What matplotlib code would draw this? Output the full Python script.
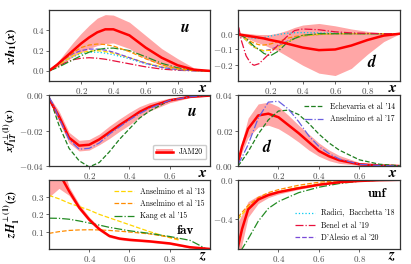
import matplotlib
matplotlib.use("Agg")
import matplotlib.pyplot as plt
from matplotlib.patches import Patch
from matplotlib.lines import Line2D

plt.rcParams["font.family"] = "serif"
plt.rcParams["font.serif"] = ["cmr10"]
plt.rcParams["mathtext.fontset"] = "cm"
plt.rcParams["axes.formatter.use_mathtext"] = True
plt.rcParams["mathtext.it"] = "STIXGeneral:italic:bold"
plt.rcParams["mathtext.rm"] = "STIXGeneral:bold"
plt.rcParams["mathtext.bf"] = "STIXGeneral:bold"

RED = "#ff0000"
C13 = "#ffd500"
C15 = "#ff8c00"
CKANG = "#228b22"
CRAD = "#00c8f0"
CBEN = "#e8103c"
CDAL = "#7a4ad8"
CECH = "#1f7f1f"
C17 = "#6a5fe0"

# ---- top left: x h1 u ----
x_hu = [0, 0.05, 0.1, 0.15, 0.2, 0.25, 0.3, 0.35, 0.4, 0.5, 0.6, 0.7, 0.8, 0.9, 1.0]
hu_jam = [0, 0.06, 0.13, 0.2, 0.27, 0.33, 0.38, 0.41, 0.41, 0.35, 0.23, 0.13, 0.055, 0.012, 0]
hu_up = [0, 0.08, 0.18, 0.28, 0.37, 0.45, 0.52, 0.555, 0.55, 0.48, 0.35, 0.22, 0.12, 0.03, 0]
hu_lo = [0, 0.04, 0.09, 0.14, 0.18, 0.22, 0.25, 0.27, 0.275, 0.22, 0.12, 0.055, 0.02, 0.004, 0]
hu_a15 = [0, 0.06, 0.12, 0.18, 0.23, 0.255, 0.265, 0.26, 0.245, 0.19, 0.12, 0.06, 0.02, 0.005, 0]
hu_kang = [0, 0.03, 0.07, 0.11, 0.15, 0.185, 0.21, 0.222, 0.225, 0.2, 0.14, 0.075, 0.03, 0.006, 0]
hu_a13 = [0, 0.05, 0.1, 0.15, 0.18, 0.195, 0.2, 0.19, 0.175, 0.13, 0.08, 0.04, 0.015, 0.003, 0]
hu_rad = [0, 0.05, 0.1, 0.14, 0.17, 0.185, 0.185, 0.175, 0.16, 0.12, 0.07, 0.035, 0.012, 0.002, 0]
hu_dal = [0, 0.06, 0.12, 0.17, 0.2, 0.215, 0.215, 0.205, 0.185, 0.13, 0.075, 0.035, 0.012, 0.002, 0]
hu_ben = [0, 0.04, 0.08, 0.11, 0.125, 0.13, 0.125, 0.115, 0.1, 0.07, 0.04, 0.018, 0.006, 0.001, 0]

# ---- top right: x h1 d ----
x_hd = [0.005, 0.02, 0.05, 0.08, 0.1, 0.13, 0.16, 0.2, 0.25, 0.3, 0.35, 0.4, 0.5, 0.6, 0.7, 0.8, 0.9, 1.0]
hd_jam = [-0.005, -0.007, -0.012, -0.017, -0.02, -0.025, -0.03, -0.04, -0.05, -0.062, -0.075, -0.088, -0.104, -0.1, -0.075, -0.04, -0.012, 0]
hd_up = [0.005, 0.004, 0.002, 0.0, -0.003, -0.005, -0.005, -0.005, 0.005, 0.02, 0.04, 0.055, 0.065, 0.05, 0.03, 0.015, 0.005, 0]
hd_lo = [-0.015, -0.02, -0.03, -0.04, -0.05, -0.06, -0.07, -0.09, -0.11, -0.14, -0.17, -0.2, -0.25, -0.265, -0.22, -0.13, -0.05, 0]
hd_ben = [0.04, -0.04, -0.14, -0.19, -0.2, -0.19, -0.16, -0.12, -0.07, -0.02, 0.02, 0.03, 0.025, 0.012, 0.005, 0.002, 0, 0]
hd_kang = [0, -0.01, -0.03, -0.06, -0.08, -0.1, -0.125, -0.14, -0.11, -0.06, -0.03, -0.01, 0, 0, 0, 0, 0, 0]
hd_a13 = [0, -0.01, -0.04, -0.07, -0.085, -0.1, -0.108, -0.105, -0.085, -0.055, -0.03, -0.015, -0.005, 0, 0, 0, 0, 0]
hd_a15 = [0, -0.01, -0.03, -0.05, -0.06, -0.07, -0.072, -0.065, -0.05, -0.03, -0.018, -0.01, -0.004, 0, 0, 0, 0, 0]
hd_dal = [0, -0.015, -0.04, -0.07, -0.085, -0.1, -0.108, -0.1, -0.08, -0.05, -0.028, -0.014, -0.005, 0, 0, 0, 0, 0]
hd_rad = [0, -0.005, -0.015, -0.025, -0.03, -0.03, -0.025, -0.015, -0.005, 0.003, 0.006, 0.007, 0.005, 0.003, 0.001, 0, 0, 0]

# ---- middle: Sivers ----
x_f = [0, 0.02, 0.05, 0.1, 0.15, 0.2, 0.25, 0.3, 0.35, 0.4, 0.45, 0.5, 0.6, 0.7, 0.8]
fu_jam = [-0.002, -0.006, -0.012, -0.024, -0.0285, -0.028, -0.025, -0.021, -0.017, -0.0133, -0.0095, -0.0067, -0.003, -0.001, -0.0003]
fu_up = [-0.001, -0.004, -0.009, -0.021, -0.0255, -0.025, -0.022, -0.0175, -0.0135, -0.0098, -0.0065, -0.0043, -0.0017, -0.0005, 0]
fu_lo = [-0.003, -0.008, -0.015, -0.027, -0.0315, -0.031, -0.028, -0.0245, -0.0205, -0.0168, -0.0125, -0.009, -0.0043, -0.0015, -0.0005]
fu_ech = [-0.001, -0.007, -0.017, -0.03, -0.037, -0.0405, -0.038, -0.032, -0.025, -0.019, -0.013, -0.009, -0.003, -0.0008, 0]
fu_a17 = [-0.001, -0.005, -0.013, -0.025, -0.0305, -0.03, -0.027, -0.022, -0.018, -0.014, -0.0105, -0.0075, -0.003, -0.001, 0]
fd_jam = [0.002, 0.011, 0.021, 0.0285, 0.0295, 0.0275, 0.023, 0.0185, 0.0135, 0.0085, 0.0055, 0.0033, 0.001, 0.0003, 0]
fd_up = [0.003, 0.014, 0.027, 0.035, 0.036, 0.0335, 0.0285, 0.023, 0.018, 0.013, 0.009, 0.006, 0.002, 0.0006, 0]
fd_lo = [0.001, 0.008, 0.016, 0.022, 0.023, 0.021, 0.0175, 0.0135, 0.009, 0.0055, 0.003, 0.0015, 0.0004, 0.0001, 0]
fd_ech = [0.0, 0.003, 0.008, 0.018, 0.026, 0.031, 0.0315, 0.029, 0.024, 0.018, 0.013, 0.009, 0.0035, 0.001, 0.0002]
fd_a17 = [0.001, 0.005, 0.012, 0.027, 0.036, 0.0365, 0.032, 0.025, 0.017, 0.011, 0.007, 0.004, 0.001, 0.0003, 0]

# ---- bottom: Collins ----
z_c = [0.2, 0.25, 0.3, 0.35, 0.4, 0.45, 0.5, 0.55, 0.6, 0.7, 0.8, 0.9, 1.0]
hf_jam = [0.5, 0.44, 0.335, 0.24, 0.17, 0.115, 0.075, 0.06, 0.053, 0.044, 0.032, 0.01, 0.0]
hf_up = [0.7, 0.55, 0.36, 0.26, 0.185, 0.125, 0.083, 0.067, 0.06, 0.05, 0.038, 0.014, 0.0]
hf_lo = [0.3, 0.35, 0.31, 0.225, 0.157, 0.105, 0.067, 0.053, 0.046, 0.038, 0.026, 0.006, 0.0]
z_a = [0.2, 0.25, 0.3, 0.35, 0.4, 0.45, 0.5, 0.55, 0.6, 0.7, 0.8, 0.85]
hf_a13 = [0.31, 0.29, 0.265, 0.245, 0.225, 0.2, 0.18, 0.16, 0.14, 0.1, 0.065, 0.05]
hf_a15 = [0.09, 0.1, 0.107, 0.11, 0.111, 0.11, 0.107, 0.103, 0.098, 0.087, 0.068, 0.055]
z_k = [0.2, 0.25, 0.3, 0.35, 0.4, 0.45, 0.5, 0.55, 0.6, 0.7, 0.8, 0.9, 0.95, 0.98]
hf_kang = [0.178, 0.177, 0.172, 0.162, 0.15, 0.138, 0.125, 0.115, 0.105, 0.09, 0.072, 0.05, 0.02, 0.0]
z_u = [0.2, 0.22, 0.25, 0.3, 0.35, 0.4, 0.5, 0.6, 0.7, 0.8, 0.9, 1.0]
hn_jam = [-0.68, -0.5, -0.3, -0.2, -0.155, -0.125, -0.085, -0.05, -0.025, -0.012, -0.004, 0]
hn_up = [-0.43, -0.35, -0.22, -0.16, -0.13, -0.105, -0.073, -0.042, -0.02, -0.009, -0.003, 0]
hn_lo = [-0.93, -0.65, -0.38, -0.24, -0.18, -0.145, -0.097, -0.058, -0.03, -0.015, -0.005, 0]
hn_a13 = [-0.4, -0.35, -0.28, -0.2, -0.155, -0.12, -0.075, -0.042, -0.02, -0.008, -0.002, 0]
hn_a15 = [-0.38, -0.33, -0.26, -0.18, -0.13, -0.1, -0.055, -0.025, -0.008, 0, 0, 0]
hn_kang = [-0.85, -0.7, -0.6, -0.42, -0.29, -0.22, -0.13, -0.075, -0.038, -0.015, -0.004, 0]

fig = plt.figure(figsize=(4.11, 2.64), dpi=100)
L = [0.119, 0.579]
W = [0.392, 0.394]
B = [0.693, 0.371, 0.057]
H = [0.269, 0.269, 0.262]
axs = [[fig.add_axes([L[c], B[r], W[c], H[r]]) for c in range(2)] for r in range(3)]

band = dict(color=RED, alpha=0.35, lw=0)
jam = dict(color=RED, lw=1.8)
thin = 0.9


def style(ax, xlim, ylim, xticks, yticks, xlab):
    ax.set_xlim(*xlim)
    ax.set_ylim(*ylim)
    ax.set_xticks(xticks)
    ax.set_yticks(yticks)
    ax.tick_params(labelsize=6.5, length=2.5, width=0.6, colors="0.3", pad=1.0)
    for s in ax.spines.values():
        s.set_linewidth(0.9)
        s.set_color("0.2")
    ax.text(0.955, -0.1, "$" + xlab + "$", transform=ax.transAxes, ha="center",
            va="center", fontsize=11, math_fontfamily="custom")


def plabel(ax, x, y, s, math=True, size=11.5):
    if math:
        ax.text(x, y, "$" + s + "$", transform=ax.transAxes, ha="center", va="center",
                fontsize=size, math_fontfamily="custom")
    else:
        ax.text(x, y, s, transform=ax.transAxes, ha="center", va="center",
                fontsize=size, family="cmb10")


# top left
ax = axs[0][0]
ax.fill_between(x_hu, hu_lo, hu_up, **band)
ax.plot(x_hu, hu_ben, color=CBEN, lw=thin, ls="-.")
ax.plot(x_hu, hu_rad, color=CRAD, lw=thin, ls=":")
ax.plot(x_hu, hu_a13, color=C13, lw=thin, ls="--")
ax.plot(x_hu, hu_dal, color=CDAL, lw=thin, ls="--")
ax.plot(x_hu, hu_kang, color=CKANG, lw=thin, ls="-.")
ax.plot(x_hu, hu_a15, color=C15, lw=thin, ls="--")
ax.plot(x_hu, hu_jam, **jam)
style(ax, (0, 1), (-0.1, 0.6), [0.2, 0.4, 0.6, 0.8], [0.0, 0.2, 0.4], "x")
ax.set_yticklabels(["0.0", "0.2", "0.4"])
ax.set_ylabel("$xh_1(x)$", fontsize=9.5, math_fontfamily="custom")
plabel(ax, 0.845, 0.75, "u")

# top right
ax = axs[0][1]
ax.fill_between(x_hd, hd_lo, hd_up, **band)
ax.plot(x_hd, hd_rad, color=CRAD, lw=thin, ls=":")
ax.plot(x_hd, hd_a15, color=C15, lw=thin, ls="--")
ax.plot(x_hd, hd_dal, color=CDAL, lw=thin, ls="--")
ax.plot(x_hd, hd_a13, color=C13, lw=thin, ls="--")
ax.plot(x_hd, hd_kang, color=CKANG, lw=thin, ls="-.")
ax.plot(x_hd, hd_ben, color=CBEN, lw=thin, ls="-.")
ax.plot(x_hd, hd_jam, **jam)
style(ax, (0, 1), (-0.3, 0.15), [0.2, 0.4, 0.6, 0.8], [-0.2, -0.1, 0.0], "x")
plabel(ax, 0.83, 0.27, "d")

# middle left
ax = axs[1][0]
ax.fill_between(x_f, fu_lo, fu_up, **band)
ax.plot(x_f, fu_ech, color=CECH, lw=thin, ls="--")
ax.plot(x_f, fu_jam, **jam)
ax.plot(x_f, fu_a17, color=C17, lw=thin, ls="-.")
style(ax, (0, 0.8), (-0.04, 0.0), [0.2, 0.4, 0.6], [-0.04, -0.02, 0.0], "x")
ax.set_yticklabels(["$-0.04$", "$-0.02$", "$0.00$"])
ax.set_ylabel(r"$xf_{1T}^{\perp(1)}(x)$", fontsize=8.2, math_fontfamily="custom")
plabel(ax, 0.89, 0.76, "u")
hj = (Patch(facecolor=RED, alpha=0.35, lw=0), Line2D([], [], color=RED, lw=1.8))
ax.legend([hj], ["JAM20"], loc="lower right", fontsize=5.5, handlelength=2.2,
          borderpad=0.4, fancybox=True, framealpha=1, edgecolor="0.8",
          bbox_to_anchor=(1.0, 0.04))

# middle right
ax = axs[1][1]
ax.fill_between(x_f, fd_lo, fd_up, **band)
ax.plot(x_f, fd_jam, **jam)
ech, = ax.plot(x_f, fd_ech, color=CECH, lw=thin, ls="--")
a17, = ax.plot(x_f, fd_a17, color=C17, lw=thin, ls="-.")
style(ax, (0, 0.8), (0.0, 0.04), [0.2, 0.4, 0.6], [0.0, 0.02, 0.04], "x")
ax.set_yticklabels(["$0.00$", "$0.02$", "$0.04$"])
plabel(ax, 0.18, 0.27, "d")
ax.legend([ech, a17], ["Echevarria et al '14", "Anselmino et al '17"], loc="upper right",
          fontsize=5.5, frameon=False, handlelength=2.6, labelspacing=0.5,
          bbox_to_anchor=(1.01, 0.99))

# bottom left
ax = axs[2][0]
ax.fill_between(z_c, hf_lo, hf_up, **band)
a13, = ax.plot(z_a, hf_a13, color=C13, lw=thin, ls="--")
a15, = ax.plot(z_a, hf_a15, color=C15, lw=thin, ls="--")
kang, = ax.plot(z_k, hf_kang, color=CKANG, lw=thin, ls="-.")
ax.plot(z_c, hf_jam, **jam)
style(ax, (0.2, 1.0), (0.0, 0.4), [0.4, 0.6, 0.8], [0.1, 0.2, 0.3], "z")
ax.set_ylabel(r"$zH_{1}^{\perp(1)}(z)$", fontsize=8.5, math_fontfamily="custom")
plabel(ax, 0.845, 0.26, "fav", math=False, size=9.5)
ax.legend([a13, a15, kang], ["Anselmino et al '13", "Anselmino et al '15", "Kang et al '15"],
          loc="upper right", fontsize=5.5, frameon=False, handlelength=2.6, labelspacing=0.5,
          bbox_to_anchor=(1.01, 0.99))

# bottom right
ax = axs[2][1]
ax.fill_between(z_u, hn_lo, hn_up, **band)
ax.plot(z_u, hn_a15, color=C15, lw=thin, ls="--")
ax.plot(z_u, hn_a13, color=C13, lw=thin, ls="--")
ax.plot(z_u, hn_kang, color=CKANG, lw=thin, ls="-.")
ax.plot(z_u, hn_jam, **jam)
style(ax, (0.2, 1.0), (-0.7, 0.0), [0.4, 0.6, 0.8], [-0.4, 0.0], "z")
plabel(ax, 0.86, 0.79, "unf", math=False, size=9.5)
hr = Line2D([], [], color=CRAD, lw=thin, ls=":")
hb = Line2D([], [], color=CBEN, lw=thin, ls="-.")
hdl = Line2D([], [], color=CDAL, lw=thin, ls="--")
ax.legend([hr, hb, hdl], ["Radici,  Bacchetta '18", "Benel et al '19", "D'Alesio et al '20"],
          loc="lower right", fontsize=5.5, frameon=False, handlelength=2.6, labelspacing=0.5,
          bbox_to_anchor=(1.01, 0.0))

axs[0][0].yaxis.set_label_coords(-0.185, 0.5)
axs[1][0].yaxis.set_label_coords(-0.178, 0.5)
axs[2][0].yaxis.set_label_coords(-0.165, 0.5)

fig.savefig("out.png", dpi=100)
